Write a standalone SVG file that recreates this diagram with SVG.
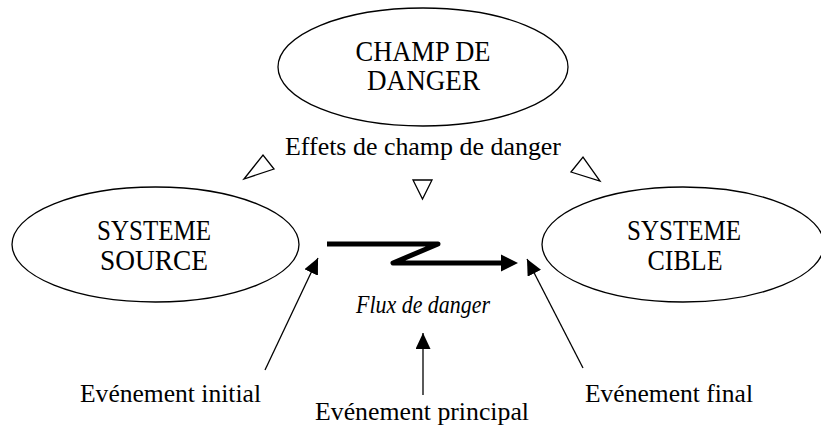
<svg xmlns="http://www.w3.org/2000/svg" width="821" height="429" viewBox="0 0 821 429">
<style>
  .node { fill: #ffffff; stroke: #000000; stroke-width: 1.3; }
  .t { font-family: "Liberation Serif", "Times New Roman", serif; font-size: 26px; fill: #000000; }
  .n { font-size: 28.5px; }
  .c { text-anchor: middle; }
  .it { font-style: italic; }
  .thin { stroke: #000000; stroke-width: 1.3; fill: none; }
  .thick { stroke: #000000; stroke-width: 5; fill: none; stroke-linejoin: round; stroke-linecap: butt; }
  .tri { fill: #ffffff; stroke: #000000; stroke-width: 1.3; stroke-linejoin: miter; }
</style>
<defs>
  <marker id="head" markerUnits="userSpaceOnUse" markerWidth="17" markerHeight="15" refX="16" refY="7.5" orient="auto" viewBox="0 0 17 15">
    <path d="M0,0 L16,7.5 L0,15 z" fill="#000000"/>
  </marker>
</defs>
<rect x="0" y="0" width="821" height="429" fill="#ffffff"/>

<g id="champ-de-danger">
  <ellipse class="node" cx="423" cy="67" rx="145" ry="59"/>
  <text class="t n c" x="423" y="61" textLength="135" lengthAdjust="spacingAndGlyphs">CHAMP DE</text>
  <text class="t n c" x="423.5" y="90" textLength="113" lengthAdjust="spacingAndGlyphs">DANGER</text>
</g>

<g id="systeme-source">
  <ellipse class="node" cx="155.5" cy="244.5" rx="143.5" ry="57.5"/>
  <text class="t n c" x="154" y="240" textLength="114" lengthAdjust="spacingAndGlyphs">SYSTEME</text>
  <text class="t n c" x="154" y="270" textLength="108" lengthAdjust="spacingAndGlyphs">SOURCE</text>
</g>

<g id="systeme-cible">
  <ellipse class="node" cx="683" cy="244.5" rx="141" ry="57.5"/>
  <text class="t n c" x="684" y="240" textLength="114" lengthAdjust="spacingAndGlyphs">SYSTEME</text>
  <text class="t n c" x="685" y="270" textLength="75" lengthAdjust="spacingAndGlyphs">CIBLE</text>
</g>

<g id="effets-label">
  <text class="t" x="285" y="155" textLength="276" lengthAdjust="spacingAndGlyphs">Effets de champ de danger</text>
</g>

<g id="flux-label">
  <text class="t it" x="356" y="313" textLength="134" lengthAdjust="spacingAndGlyphs">Flux de danger</text>
</g>

<g id="evenement-initial">
  <text class="t" x="80" y="402" textLength="181" lengthAdjust="spacingAndGlyphs">Evénement initial</text>
</g>

<g id="evenement-principal">
  <text class="t" x="315" y="420" textLength="214" lengthAdjust="spacingAndGlyphs">Evénement principal</text>
</g>

<g id="evenement-final">
  <text class="t" x="585" y="402" textLength="168" lengthAdjust="spacingAndGlyphs">Evénement final</text>
</g>

<g id="effect-triangles">
  <polygon class="tri" points="244,179 263,155 274,169"/>
  <polygon class="tri" points="413,180 432,180 422.5,199"/>
  <polygon class="tri" points="571,172 583,157 600,181"/>
</g>

<g id="connectors">
  <path class="thick" d="M327,244 L438,244 L393,263 L503,263"/>
  <polygon points="501,254.5 518,263 501,271.5" fill="#000000"/>
  <line class="thin" x1="265" y1="370" x2="318" y2="258" marker-end="url(#head)"/>
  <line class="thin" x1="583" y1="368" x2="527" y2="259" marker-end="url(#head)"/>
  <line class="thin" x1="423" y1="395" x2="423" y2="333" marker-end="url(#head)"/>
</g>
</svg>
